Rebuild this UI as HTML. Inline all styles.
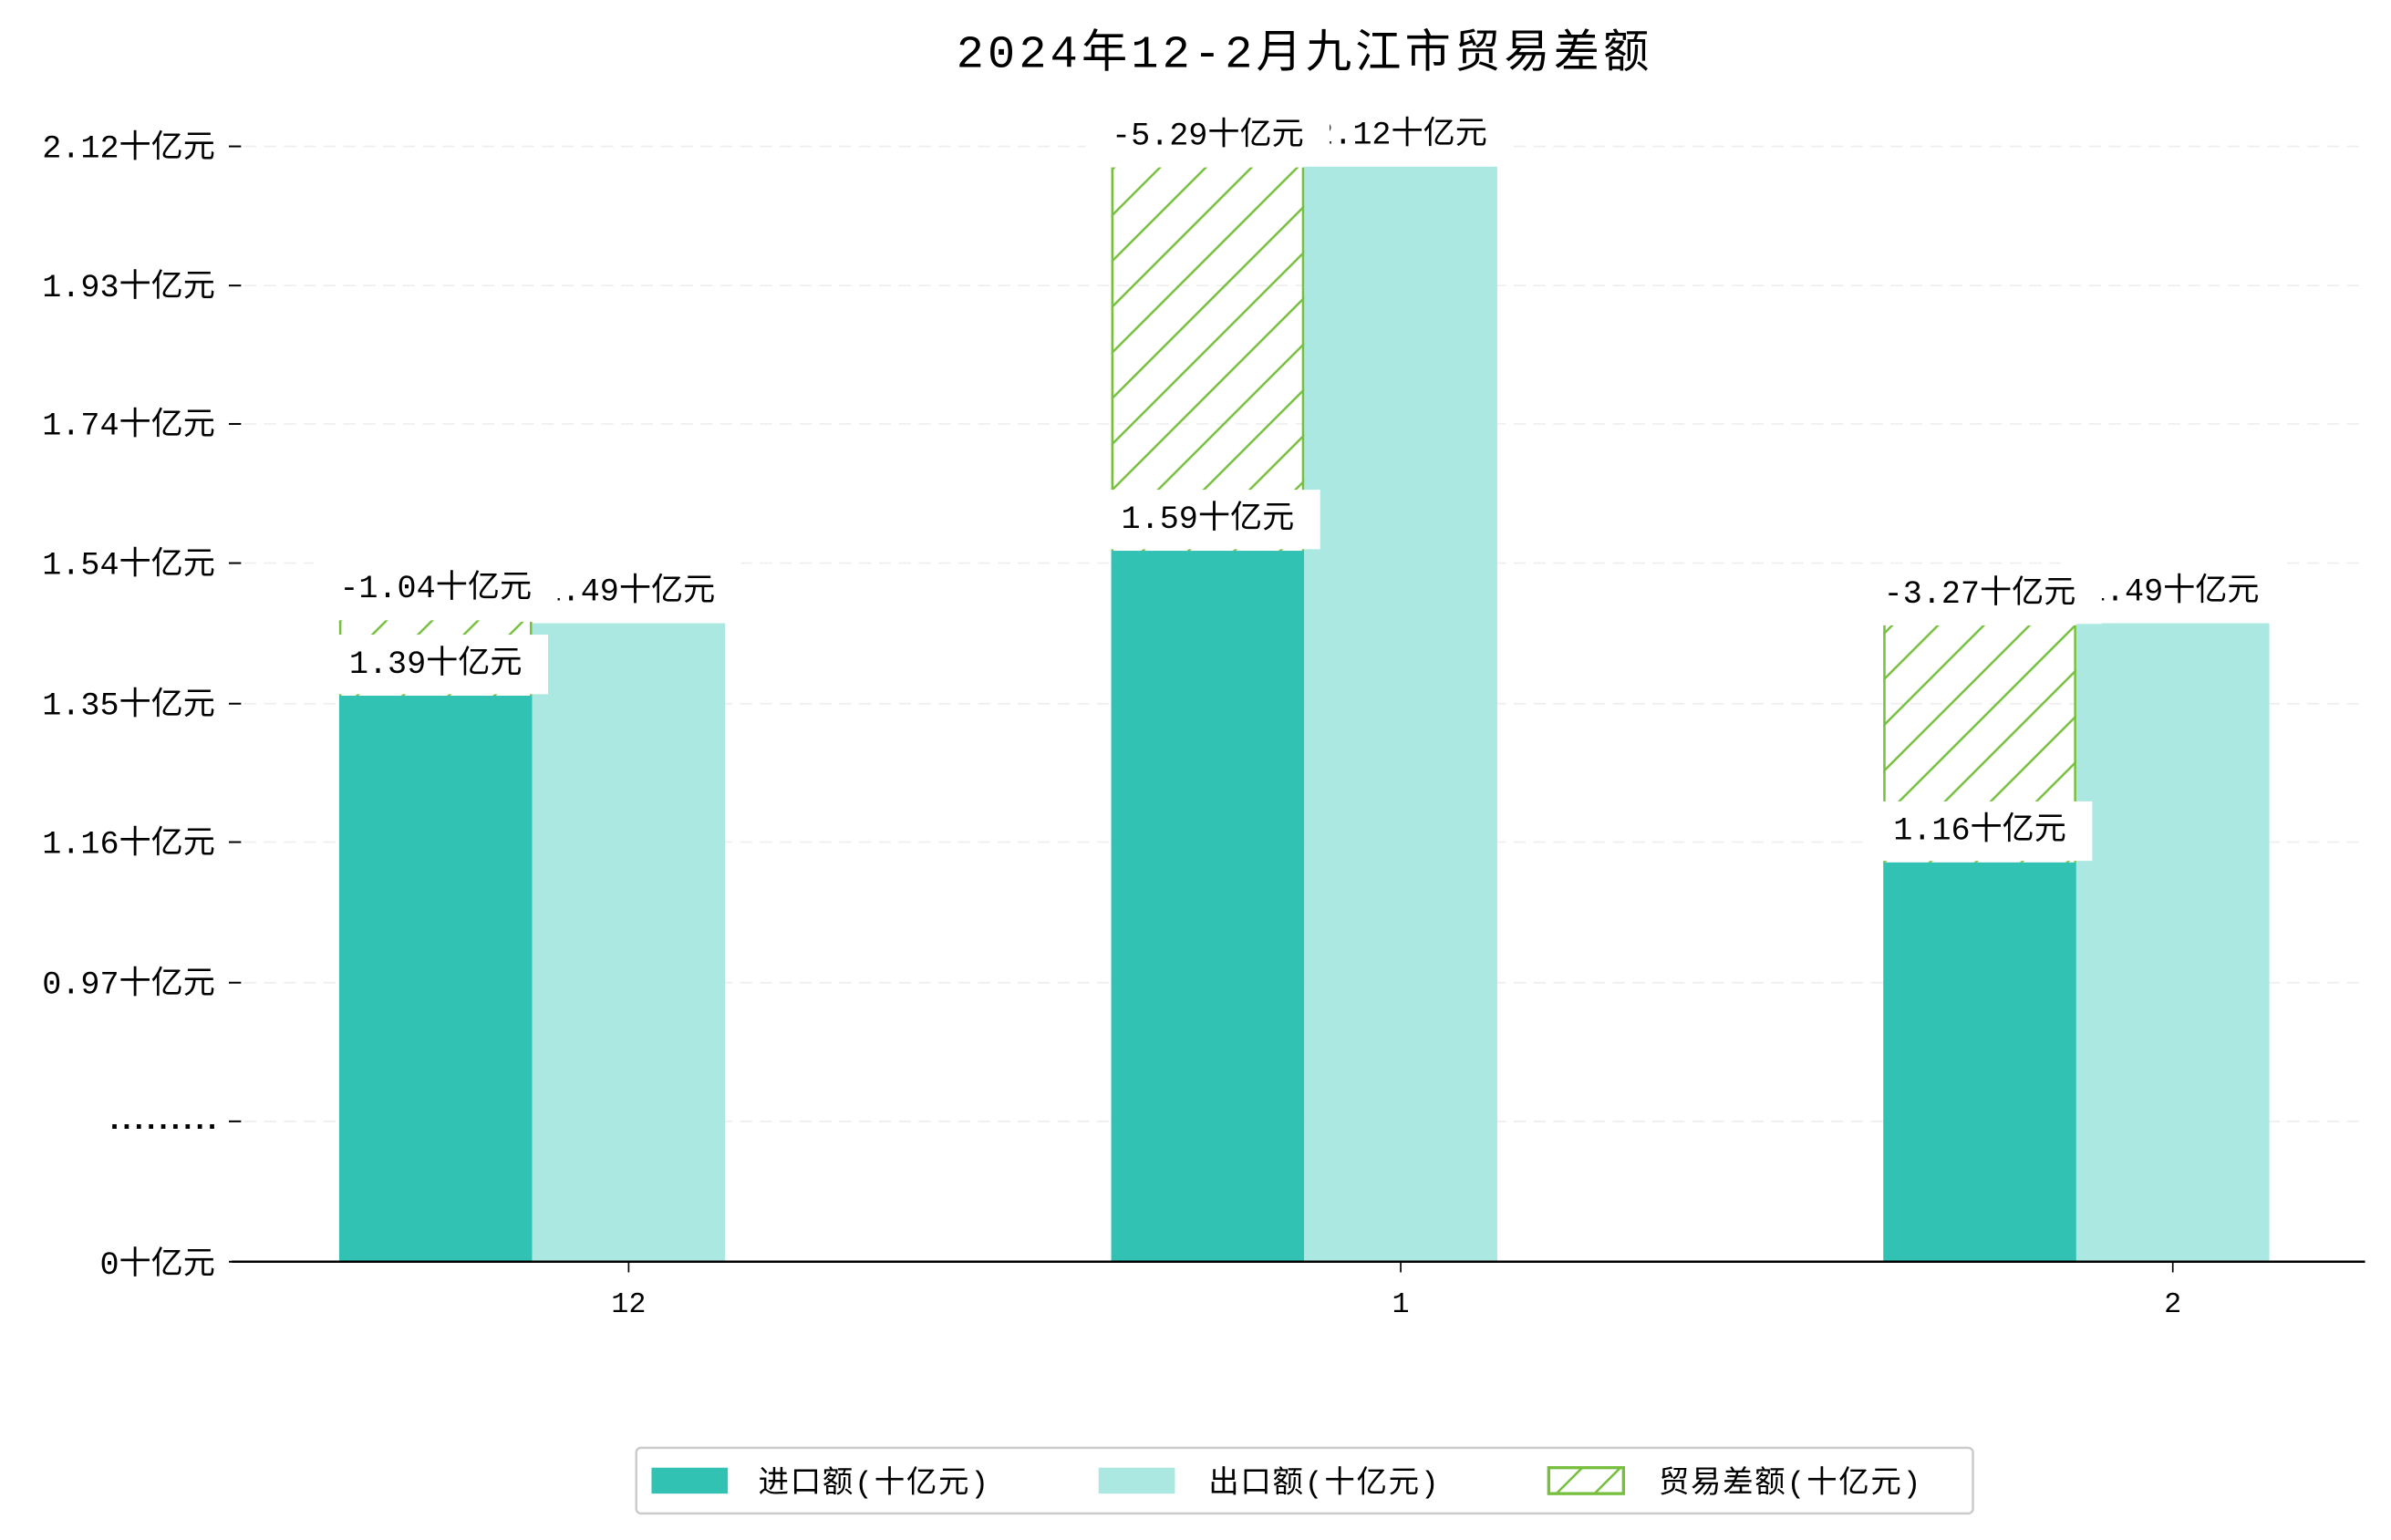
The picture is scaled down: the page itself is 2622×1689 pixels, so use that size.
<!DOCTYPE html>
<html><head><meta charset="utf-8"><style>
html,body{margin:0;padding:0;background:#fff;}
svg{display:block;}
text{font-family:"Liberation Mono","Noto Sans CJK SC",monospace;}
</style></head><body>
<svg id="chart" width="2622" height="1689" viewBox="0 0 1567 1009.4" xmlns="http://www.w3.org/2000/svg">
<defs>
<pattern id="hatch" patternUnits="userSpaceOnUse" width="30" height="30">
<path d="M-5,35 L35,-5 M-5,5 L5,-5 M25,35 L35,25" stroke="#77bf3f" stroke-width="1.5"/>
</pattern>
</defs>
<text x="855" y="44" text-anchor="middle" font-size="30" letter-spacing="2.5" fill="#000">2024年12-2月九江市贸易差额</text>
<g id="grid"></g><g id="bars"></g><g id="labels"></g><g id="axes"></g>
<g>
<rect x="417" y="949" width="876" height="43" rx="3" fill="#fff" stroke="#ccc" stroke-width="1.5"/>
<rect x="427" y="962" width="50" height="17" fill="#31c2b4"/>
<text x="497" y="978" font-size="20" letter-spacing="1">进口额(十亿元)</text>
<rect x="720" y="962" width="50" height="17" fill="#abe8e2"/>
<text x="792" y="978" font-size="20" letter-spacing="1">出口额(十亿元)</text>
<rect x="1015" y="962" width="49" height="17" fill="#fff" stroke="#77bf3f" stroke-width="2"/>
<path d="M1020,979 L1037,962 M1045,979 L1062,962" stroke="#77bf3f" stroke-width="1.5"/>
<text x="1087" y="978" font-size="20" letter-spacing="1">贸易差额(十亿元)</text>
</g>
</svg>
<script>
const categories = ["12","1","2"];
const importVals = [1.39,1.59,1.16];
const exportVals = [1.49,2.12,1.49];
const balanceVals = [-1.04,-5.29,-3.27];
const importLabels = ["1.39十亿元","1.59十亿元","1.16十亿元"];
const exportLabels = ["1.49十亿元","2.12十亿元","1.49十亿元"];
const balanceLabels = ["-1.04十亿元","-5.29十亿元","-3.27十亿元"];
const tickVals = [2.148,1.956,1.765,1.573,1.379,1.188,0.994];
const tickLabels = ["2.12十亿元","1.93十亿元","1.74十亿元","1.54十亿元","1.35十亿元","1.16十亿元","0.97十亿元"];

const NS="http://www.w3.org/2000/svg";
const base=827, left=152, right=1550;
function y(v){return 456-(v-1.39)*475;}
function xc(i){return 412+i*506;}
const bw=126.5;
function mk(tag,attrs,parent){const e=document.createElementNS(NS,tag);for(const k in attrs)e.setAttribute(k,attrs[k]);document.getElementById(parent).appendChild(e);return e;}
function tw(s,fs){let w=0;for(const ch of s){w+= /[\x00-\x7f]/.test(ch)?fs*0.6:fs;}return w;}

tickVals.forEach((v,i)=>{
  const l=mk('line',{x1:160,x2:right,y1:y(v),y2:y(v),stroke:'#eee','stroke-dasharray':'8,5','stroke-width':1},'grid');
  
  
  const t=mk('line',{x1:150,x2:158,y1:y(v),y2:y(v),stroke:'#000','stroke-width':1.2},'axes');
  
  
  const tx=mk('text',{x:141,y:y(v)+7,'text-anchor':'end','font-size':21},'axes');
  tx.textContent=tickLabels[i];
  
  
});
{const l=mk('line',{x1:160,x2:right,y1:735,y2:735,stroke:'#eee','stroke-dasharray':'8,5'},'grid');


const t=mk('line',{x1:150,x2:158,y1:735,y2:735,stroke:'#000','stroke-width':1.2},'axes');


const tx=mk('text',{x:141,y:740,'text-anchor':'end','font-size':20,'letter-spacing':-4,'font-weight':'bold'},'axes');
tx.textContent='.........';


const z=mk('line',{x1:150,x2:158,y1:base,y2:base,stroke:'#000','stroke-width':1.2},'axes');


const zt=mk('text',{x:141,y:base+8,'text-anchor':'end','font-size':21},'axes');
zt.textContent='0十亿元';

}

const bl=mk('line',{x1:left,x2:right,y1:base,y2:base,stroke:'#000','stroke-width':1.5},'axes');



function label(txt,cx,top,name){
  const w=tw(txt,21)+34;
  const r=mk('rect',{x:cx-w/2,y:top-40,width:w,height:39,fill:'#fff'},'labels');
  
  
  const t=mk('text',{x:cx,y:top-15,'text-anchor':'middle','font-size':21},'labels');
  t.textContent=txt;
  
  
}

categories.forEach((c,i)=>{
  const cx=xc(i);
  const ix=cx-1.5*bw, ex=cx-0.5*bw;
  const ib=mk('rect',{x:ix,y:y(importVals[i]),width:bw,height:base-y(importVals[i]),fill:'#31c2b4'},'bars');
  
  
  const eb=mk('rect',{x:ex,y:y(exportVals[i]),width:bw,height:base-y(exportVals[i]),fill:'#abe8e2'},'bars');
  
  
  const top=importVals[i]+Math.abs(balanceVals[i])/10;
  const hb=mk('rect',{x:ix,y:y(top),width:bw,height:y(importVals[i])-y(top),fill:'url(#hatch)'},'bars');
  
  
  const e1=mk('line',{x1:ix+0.75,x2:ix+0.75,y1:y(top),y2:y(importVals[i]),stroke:'#77bf3f','stroke-width':1.5},'bars');
  
  
  const e2=mk('line',{x1:ix+bw-0.75,x2:ix+bw-0.75,y1:y(top),y2:y(importVals[i]),stroke:'#77bf3f','stroke-width':1.5},'bars');
  
  
  const xt=mk('line',{x1:cx,x2:cx,y1:base,y2:base+7,stroke:'#000'},'axes');
  
  
  const xl=mk('text',{x:cx,y:base+33,'text-anchor':'middle','font-size':19},'axes');
  xl.textContent=c;
  
  
});
categories.forEach((c,i)=>{
  const cx=xc(i);
  label(exportLabels[i],cx,y(exportVals[i]),'label-export-'+c);
  label(importLabels[i],cx-bw,y(importVals[i]),'label-import-'+c);
  label(balanceLabels[i],cx-bw,y(importVals[i]+Math.abs(balanceVals[i])/10),'label-balance-'+c);
});
</script>
</body></html>
